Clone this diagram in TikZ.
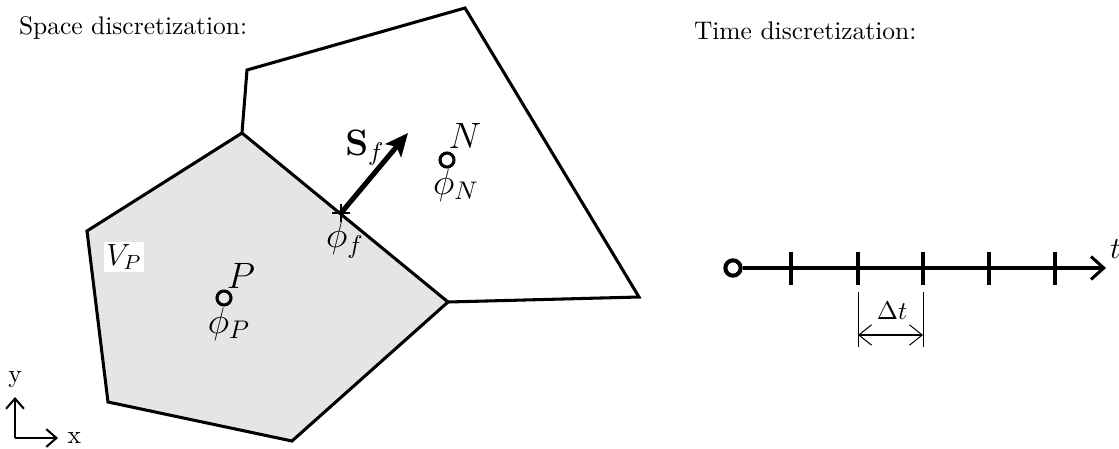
\documentclass[tikz,border=0pt]{standalone}
\usetikzlibrary{arrows.meta}
\tikzset{cellline/.style={very thick,line join=miter},
  centre/.style={circle,draw,very thick,inner sep=0pt,minimum size=5.5pt},
  lbl/.style={font=\Large,inner sep=1pt},
  tick/.style={very thick},
  axisline/.style={very thick,-{Straight Barb[length=5pt,width=9pt]}},
}
\begin{document}
\begin{tikzpicture}[x=0.0138cm,y=-0.0138cm]
  \useasboundingbox (0,0) rectangle (1119,448);
  % cell vertices
  \coordinate (a) at (242,133);
  \coordinate (b) at (448,302);
  \coordinate (c) at (292,441);
  \coordinate (d) at (108,402);
  \coordinate (e) at (87,231);
  \coordinate (g) at (247,70);
  \coordinate (h) at (465,8);
  \coordinate (i) at (639,297);
  \fill[black!10] (a) -- (b) -- (c) -- (d) -- (e) -- cycle;
  \draw[cellline] (a) -- (b) -- (c) -- (d) -- (e) -- cycle;
  \draw[cellline] (a) -- (g) -- (h) -- (i) -- (b);
  \node[anchor=west] (spacetitle) at (10,28) {Space discretization:};
  \node[anchor=west] (timetitle) at (685,31) {Time discretization:};
  % cell centres
  \node[centre] (P) at (224,298) {};
  \node[lbl] at (241,276) {$P$};
  \node[lbl] at (229,324) {$\phi_P$};
  \node[centre] (N) at (447,160) {};
  \node[lbl] at (465,136) {$N$};
  \node[lbl] at (456,185) {$\phi_N$};
  \node[lbl,font=\large,fill=white] (vp) at (124,257) {$V_P$};
  % face
  \node[inner sep=0pt,minimum size=7pt] (f) at (341,213) {};
  \draw[thin] (f.north) -- (f.south) (f.east) -- (f.west);
  \node[lbl] at (345,240) {$\phi_f$};
  \coordinate (sf) at (408,133);
  \draw[line width=2pt,-{Stealth[length=9pt,width=8pt,inset=2pt]}] (f.center) -- (sf);
  \node[lbl] at (365,148) {$\mathbf{S}_f$};
  % axes
  \coordinate (o) at (15,438);
  \draw[thick,-{Straight Barb[length=4pt,width=7pt]}] (o) -- (15,397) node[above=0pt] (y) {y};
  \draw[thick,-{Straight Barb[length=4pt,width=7pt]}] (o) -- (58,438) node[right=0pt] (x) {x};
  % time axis
  \node[centre,fill=white,line width=1.6pt,minimum size=6pt] (t0) at (733,268) {};
  \coordinate (tend) at (1106,268);
  \draw[axisline] (t0) -- (tend);
  \node[anchor=south west,inner sep=1pt,font=\large] (t) at (1107,262) {$t$};
  \foreach \n/\tx in {1/791,2/858,3/923,4/989,5/1055}
    \draw[tick] (\tx,252) coordinate (tk\n) -- (\tx,285);
  \draw[thin] (858,292) -- (858,347) (923,292) -- (923,347);
  \draw[thin,{Straight Barb[length=5pt,width=8pt]}-{Straight Barb[length=5pt,width=8pt]}] (858,335) -- (923,335);
  \node (dt) at (892,311) {$\Delta t$};
\end{tikzpicture}
\end{document}
